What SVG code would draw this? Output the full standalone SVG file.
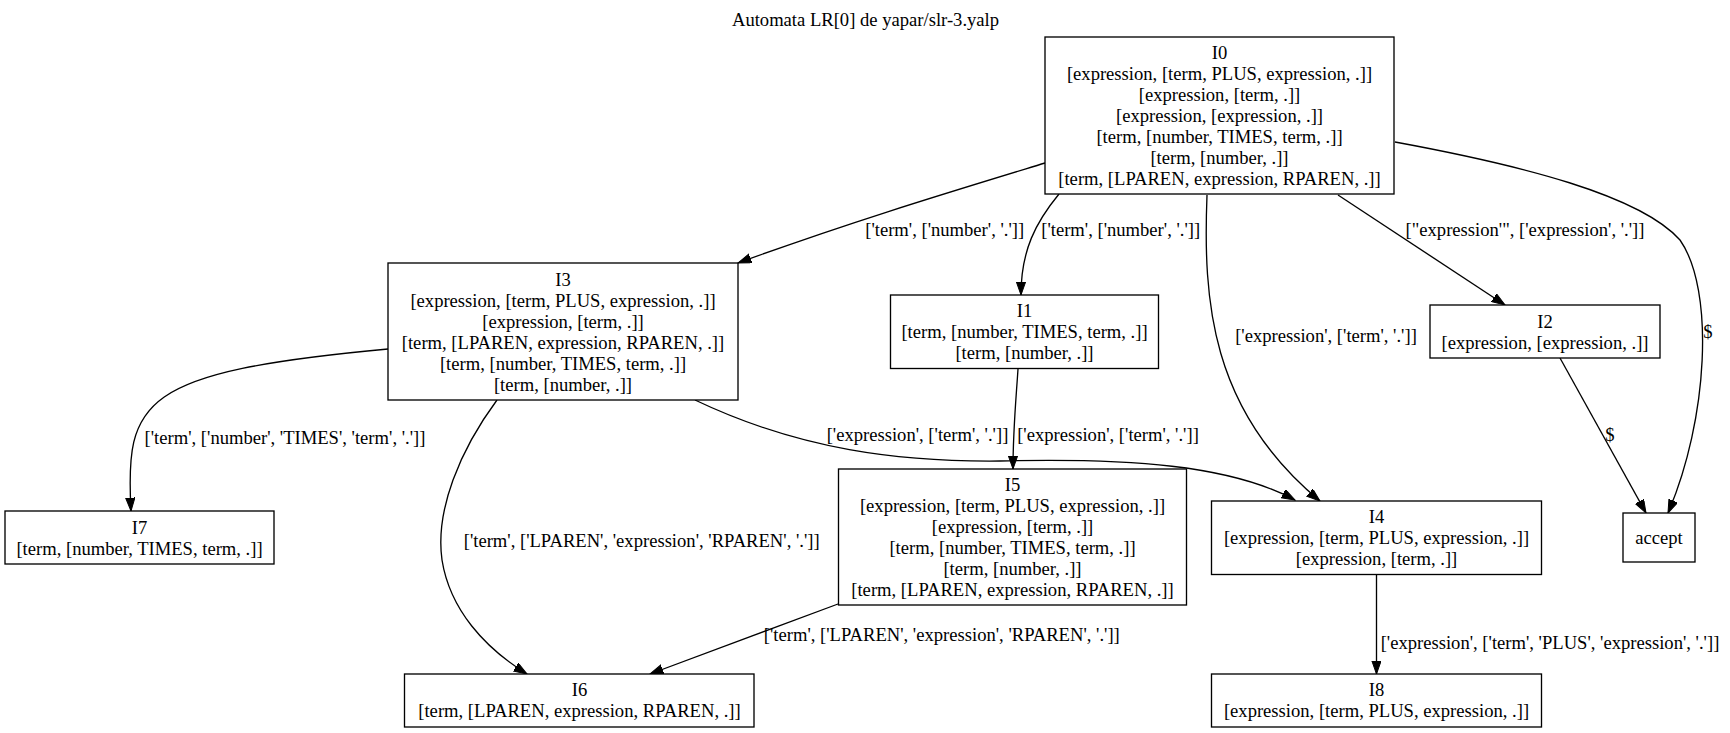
<svg xmlns="http://www.w3.org/2000/svg" width="1730" height="733" viewBox="0 0 1730 733">
<style>
text{font-family:"Liberation Serif","Times New Roman",serif;font-size:18.6px;fill:#000}
.n text{text-anchor:middle}
.n rect{fill:#fff;stroke:#000;stroke-width:1.33}
.e path{fill:none;stroke:#000;stroke-width:1.33;marker-end:url(#arr)}
.l{text-anchor:middle}
</style>
<defs>
<marker id="arr" markerWidth="14" markerHeight="10" refX="13.3" refY="4.7" orient="auto" markerUnits="userSpaceOnUse">
<path d="M0,0 L13.3,4.7 L0,9.4 z" fill="#000" stroke="#000" stroke-width="1"/>
</marker>
</defs>
<rect width="1730" height="733" fill="#fff"/>
<text x="865.5" y="26" text-anchor="middle">Automata LR[0] de yapar/slr-3.yalp</text>
<g id="edges" class="e">
<path d="M1045,163 C950,192 850,222 738,263"/>
<path d="M1059,194 C1036,222 1021,250 1021,295"/>
<path d="M1207,195 C1203,300 1210,410 1320,501"/>
<path d="M1338,195 L1505,305"/>
<path d="M1395,142 C1520,165 1640,195 1680,240 C1715,290 1708,420 1668,513"/>
<path d="M1560,358 L1646,513"/>
<path d="M388,349 C140,372 125,400 131,511"/>
<path d="M497,400 C460,450 435,510 442,560 C450,610 485,648 527,674"/>
<path d="M838,604 L650,674"/>
<path d="M695,400 C800,450 900,462 1000,461 C1130,458 1230,465 1295,500"/>
<path d="M1018,369 C1016,400 1013,430 1013,469"/>
<path d="M1376.5,575 L1376.5,674"/>
</g>
<g id="edge-labels">
<text class="l" x="944.7" y="236">['term', ['number', '.']]</text>
<text class="l" x="1120.7" y="236">['term', ['number', '.']]</text>
<text class="l" x="1525" y="236">["expression'", ['expression', '.']]</text>
<text class="l" x="1326" y="342">['expression', ['term', '.']]</text>
<text class="l" x="1108" y="441">['expression', ['term', '.']]</text>
<text class="l" x="917.5" y="441">['expression', ['term', '.']]</text>
<text class="l" x="285" y="444">['term', ['number', 'TIMES', 'term', '.']]</text>
<text class="l" x="641.7" y="547">['term', ['LPAREN', 'expression', 'RPAREN', '.']]</text>
<text class="l" x="941.8" y="641">['term', ['LPAREN', 'expression', 'RPAREN', '.']]</text>
<text class="l" x="1550" y="649">['expression', ['term', 'PLUS', 'expression', '.']]</text>
<text class="l" x="1708" y="338">$</text>
<text class="l" x="1610" y="441">$</text>
</g>
<g id="I0" class="n">
<rect x="1045" y="37" width="349" height="157"/>
<text x="1219.5" y="59">I0</text>
<text x="1219.5" y="80">[expression, [term, PLUS, expression, .]]</text>
<text x="1219.5" y="101">[expression, [term, .]]</text>
<text x="1219.5" y="122">[expression, [expression, .]]</text>
<text x="1219.5" y="143">[term, [number, TIMES, term, .]]</text>
<text x="1219.5" y="164">[term, [number, .]]</text>
<text x="1219.5" y="185">[term, [LPAREN, expression, RPAREN, .]]</text>
</g>
<g id="I3" class="n">
<rect x="388" y="263" width="350" height="137"/>
<text x="563" y="285.5">I3</text>
<text x="563" y="306.5">[expression, [term, PLUS, expression, .]]</text>
<text x="563" y="327.5">[expression, [term, .]]</text>
<text x="563" y="348.5">[term, [LPAREN, expression, RPAREN, .]]</text>
<text x="563" y="369.5">[term, [number, TIMES, term, .]]</text>
<text x="563" y="390.5">[term, [number, .]]</text>
</g>
<g id="I1" class="n">
<rect x="890.5" y="295" width="268" height="73.5"/>
<text x="1024.5" y="317">I1</text>
<text x="1024.5" y="338">[term, [number, TIMES, term, .]]</text>
<text x="1024.5" y="359">[term, [number, .]]</text>
</g>
<g id="I2" class="n">
<rect x="1430" y="305" width="230" height="53"/>
<text x="1545" y="327.5">I2</text>
<text x="1545" y="348.5">[expression, [expression, .]]</text>
</g>
<g id="I7" class="n">
<rect x="5" y="511" width="269" height="53"/>
<text x="139.5" y="533.5">I7</text>
<text x="139.5" y="554.5">[term, [number, TIMES, term, .]]</text>
</g>
<g id="I5" class="n">
<rect x="838.5" y="469" width="348" height="136"/>
<text x="1012.5" y="491">I5</text>
<text x="1012.5" y="512">[expression, [term, PLUS, expression, .]]</text>
<text x="1012.5" y="533">[expression, [term, .]]</text>
<text x="1012.5" y="554">[term, [number, TIMES, term, .]]</text>
<text x="1012.5" y="575">[term, [number, .]]</text>
<text x="1012.5" y="596">[term, [LPAREN, expression, RPAREN, .]]</text>
</g>
<g id="I4" class="n">
<rect x="1211.5" y="501" width="330" height="73.5"/>
<text x="1376.5" y="523">I4</text>
<text x="1376.5" y="544">[expression, [term, PLUS, expression, .]]</text>
<text x="1376.5" y="565">[expression, [term, .]]</text>
</g>
<g id="accept" class="n">
<rect x="1623" y="513" width="72" height="49"/>
<text x="1659" y="544">accept</text>
</g>
<g id="I6" class="n">
<rect x="404.5" y="674" width="349.5" height="53"/>
<text x="579.5" y="696">I6</text>
<text x="579.5" y="717">[term, [LPAREN, expression, RPAREN, .]]</text>
</g>
<g id="I8" class="n">
<rect x="1211.5" y="674" width="330" height="53"/>
<text x="1376.5" y="696">I8</text>
<text x="1376.5" y="717">[expression, [term, PLUS, expression, .]]</text>
</g>
</svg>
